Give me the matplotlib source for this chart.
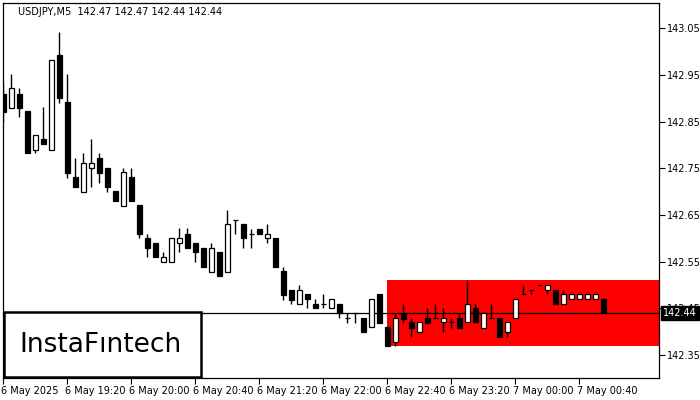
import matplotlib
matplotlib.use('Agg')
import matplotlib.pyplot as plt
import matplotlib.transforms as mtransforms
from matplotlib.patches import Rectangle

# ______________________________________________________________________________
# USDJPY M5 candles, 6 May 18:40 -> 7 May 00:55

opens = [142.910, 142.880, 142.910, 142.872, 142.790, 142.812, 142.790, 142.992,
         142.892, 142.731, 142.700, 142.750, 142.772, 142.750, 142.701, 142.670,
         142.731, 142.671, 142.600, 142.589, 142.550, 142.550, 142.589, 142.610,
         142.589, 142.580, 142.528, 142.571, 142.528, 142.640, 142.630, 142.610,
         142.620, 142.600, 142.600, 142.530, 142.490, 142.460, 142.480, 142.460,
         142.460, 142.450, 142.460, 142.428, 142.439, 142.428, 142.409, 142.480,
         142.409, 142.378, 142.439, 142.421, 142.398, 142.428, 142.428, 142.420,
         142.420, 142.428, 142.420, 142.450, 142.408, 142.428, 142.428, 142.398,
         142.428, 142.480, 142.490, 142.500, 142.490, 142.490, 142.460, 142.470,
         142.470, 142.470, 142.470, 142.470]
highs = [142.932, 142.951, 142.921, 142.872, 142.821, 142.881, 142.981, 143.042,
         142.951, 142.772, 142.783, 142.813, 142.783, 142.750, 142.701, 142.750,
         142.750, 142.671, 142.610, 142.589, 142.570, 142.600, 142.621, 142.621,
         142.589, 142.580, 142.590, 142.571, 142.660, 142.640, 142.630, 142.620,
         142.620, 142.630, 142.600, 142.539, 142.490, 142.500, 142.480, 142.469,
         142.480, 142.469, 142.460, 142.439, 142.439, 142.428, 142.469, 142.480,
         142.409, 142.439, 142.460, 142.428, 142.420, 142.450, 142.460, 142.450,
         142.428, 142.439, 142.510, 142.460, 142.439, 142.460, 142.428, 142.420,
         142.469, 142.500, 142.490, 142.500, 142.500, 142.490, 142.490, 142.480,
         142.480, 142.480, 142.480, 142.470]
lows = [142.849, 142.880, 142.860, 142.782, 142.782, 142.801, 142.790, 142.890,
        142.729, 142.710, 142.700, 142.710, 142.719, 142.700, 142.680, 142.670,
        142.680, 142.600, 142.559, 142.559, 142.550, 142.550, 142.570, 142.580,
        142.550, 142.539, 142.528, 142.520, 142.528, 142.610, 142.580, 142.580,
        142.610, 142.589, 142.539, 142.468, 142.460, 142.460, 142.450, 142.450,
        142.450, 142.450, 142.428, 142.419, 142.419, 142.398, 142.409, 142.419,
        142.368, 142.368, 142.418, 142.389, 142.398, 142.419, 142.428, 142.398,
        142.408, 142.408, 142.420, 142.420, 142.408, 142.428, 142.389, 142.389,
        142.428, 142.480, 142.480, 142.500, 142.480, 142.460, 142.460, 142.470,
        142.470, 142.470, 142.470, 142.440]
closes = [142.871, 142.921, 142.880, 142.782, 142.821, 142.801, 142.981, 142.901,
          142.740, 142.710, 142.761, 142.761, 142.740, 142.710, 142.680, 142.741,
          142.680, 142.610, 142.580, 142.559, 142.559, 142.600, 142.600, 142.580,
          142.570, 142.539, 142.580, 142.520, 142.630, 142.640, 142.600, 142.610,
          142.610, 142.610, 142.539, 142.478, 142.468, 142.490, 142.469, 142.450,
          142.460, 142.469, 142.439, 142.428, 142.439, 142.398, 142.469, 142.419,
          142.368, 142.428, 142.427, 142.408, 142.420, 142.419, 142.428, 142.428,
          142.420, 142.408, 142.460, 142.420, 142.439, 142.428, 142.389, 142.420,
          142.469, 142.480, 142.490, 142.500, 142.500, 142.460, 142.480, 142.480,
          142.480, 142.480, 142.480, 142.440]

x_tick_labels = ['6 May 2025', '6 May 19:20', '6 May 20:00', '6 May 20:40',
                 '6 May 21:20', '6 May 22:00', '6 May 22:40', '6 May 23:20',
                 '7 May 00:00', '7 May 00:40']
y_ticks = [142.35, 142.45, 142.55, 142.65, 142.75, 142.85, 142.95, 143.05]

zone_start = 48
zone_low, zone_high = 142.37, 142.51
last_price = 142.44
title = 'USDJPY,M5  142.47 142.47 142.44 142.44'

# ______________________________________________________________________________

plt.rcParams['font.family'] = ['DejaVu Sans']

fig = plt.figure(figsize=(7, 4), dpi=100)
ax = fig.add_axes([3 / 700, 22 / 400, 656 / 700, 375 / 400])

n = len(opens)
xs = list(range(n))

# rectangle pattern zone
ax.add_patch(Rectangle((zone_start, zone_low), 200, zone_high - zone_low,
                       facecolor='#ff0000', edgecolor='none', zorder=1))
ax.axhline(last_price, color='black', lw=0.9, zorder=2)

# wicks then bodies
ax.vlines(xs, lows, highs, color='black', lw=1.0, zorder=3)
for i in xs:
    o, c = opens[i], closes[i]
    face = 'white' if c >= o else 'black'
    ax.bar(i, abs(c - o), bottom=min(o, c), width=0.6, color=face,
           edgecolor='black', linewidth=0.9, zorder=4)

ax.set_xlim(-0.04, 81.96)
ax.set_ylim(142.3005, 143.104)

ax.yaxis.tick_right()
ax.set_yticks(y_ticks)
ax.set_yticklabels(['%.2f' % v for v in y_ticks])
ax.set_xticks(range(0, 8 * len(x_tick_labels), 8))
ax.set_xticklabels(x_tick_labels, ha='left')
ax.tick_params(axis='both', direction='out', length=4, width=0.8,
               labelsize=7, colors='black', pad=2)
for lab in ax.get_xticklabels():
    lab.set_transform(lab.get_transform() + mtransforms.ScaledTranslation(-2 / 100, 0, fig.dpi_scale_trans))
for sp in ax.spines.values():
    sp.set_color('black')
    sp.set_linewidth(0.9)

# current price tag (covers the 142.45 label, as on the terminal)
trans = mtransforms.blended_transform_factory(ax.transAxes, ax.transData)
ax.text(1.006, last_price, '%.2f' % last_price, transform=trans, color='white',
        fontsize=7, va='center', ha='left', zorder=6,
        bbox=dict(boxstyle='square,pad=0.2', facecolor='black', edgecolor='black'))

ax.text(0.023, 0.976, title, transform=ax.transAxes, fontsize=7,
        va='center', ha='left', color='black')

# logo box
fig.patches.append(Rectangle((4 / 700, 23 / 400), 197 / 700, 65 / 400,
                             transform=fig.transFigure, facecolor='white',
                             edgecolor='black', linewidth=1.8, zorder=10))
fig.text(101 / 700, 55 / 400, 'InstaF\u0131ntech', fontsize=19, color='black',
         ha='center', va='center', zorder=11)

fig.savefig('out.png', dpi=100)
